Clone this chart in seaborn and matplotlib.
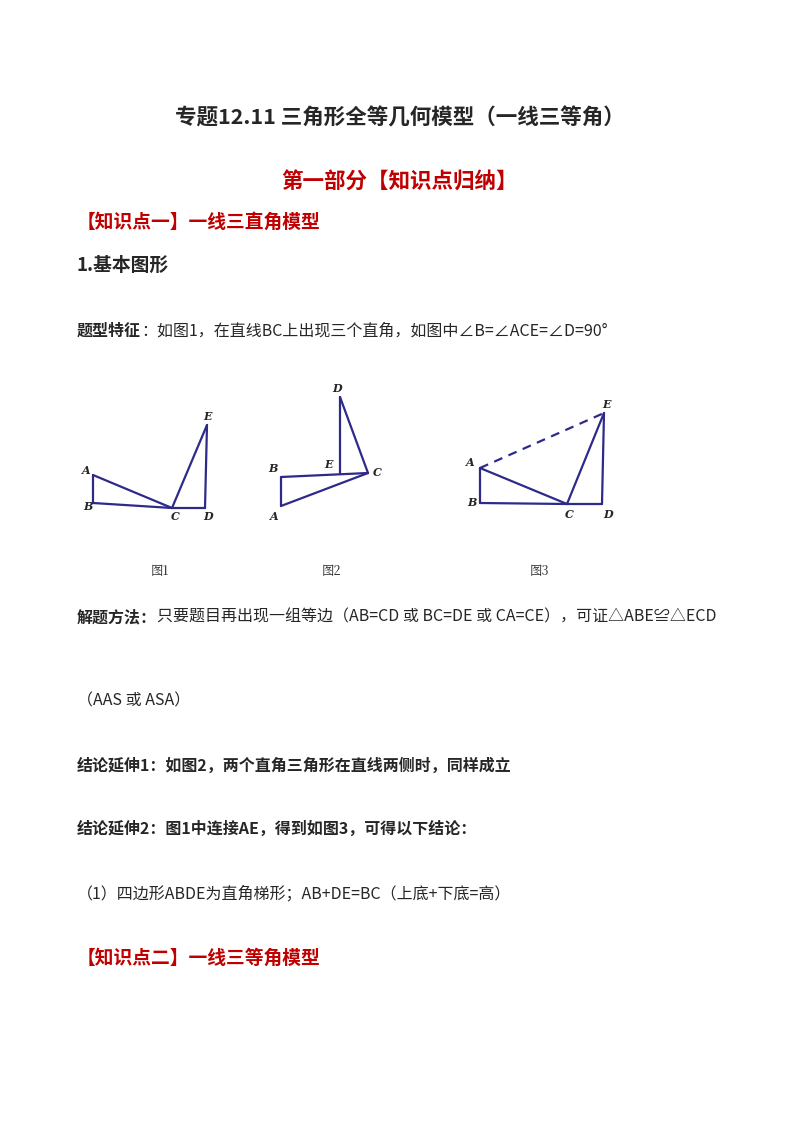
import matplotlib
matplotlib.use("Agg")
import matplotlib.pyplot as plt
import seaborn as sns

sns.set_theme(style="white")
plt.rcParams['font.family'] = ['Noto Sans CJK SC', 'DejaVu Sans']

# figure geometry points (page pixel coordinates)
fig1_pts = {"A": (93, 475), "B": (93, 503), "C": (172, 508), "D": (205, 508), "E": (207, 425)}
fig1_lines = [("A", "B"), ("B", "C"), ("C", "D"), ("A", "C"), ("C", "E"), ("E", "D")]
fig1_lbl = {"A": (86, 470), "B": (88, 507), "C": (175, 517), "D": (208, 517), "E": (208, 416)}

fig2_pts = {"D": (340, 397), "E": (340, 474), "C": (368, 473), "B": (281, 477), "A": (281, 506)}
fig2_lines = [("D", "E"), ("D", "C"), ("B", "C"), ("A", "C"), ("B", "A")]
fig2_lbl = {"D": (337, 388), "B": (273, 468), "E": (329, 465), "C": (377, 473), "A": (274, 516)}

fig3_pts = {"A": (480, 468), "B": (480, 503), "C": (567, 504), "D": (602, 504), "E": (604, 413)}
fig3_lines = [("A", "B"), ("B", "C"), ("C", "D"), ("A", "C"), ("C", "E"), ("E", "D")]
fig3_dash = [("A", "E")]
fig3_lbl = {"A": (470, 463), "B": (472, 503), "C": (569, 515), "D": (608, 514), "E": (607, 404)}

captions = ["图1", "图2", "图3"]
caption_x = [160, 331, 539]

fig = plt.figure(figsize=(8, 11.32), dpi=100)
ax = fig.add_axes([0, 0, 1, 1])
ax.set_xlim(0, 800); ax.set_ylim(1132, 0); ax.axis("off")
navy = "#2d2a8a"
red = "#c00000"

for pts, lines, lbl in [(fig1_pts, fig1_lines, fig1_lbl), (fig2_pts, fig2_lines, fig2_lbl), (fig3_pts, fig3_lines, fig3_lbl)]:
    for a, b in lines:
        ax.plot([pts[a][0], pts[b][0]], [pts[a][1], pts[b][1]], color=navy, lw=1.6)
    for k, (x, y) in lbl.items():
        ax.text(x, y, k, fontsize=8, fontstyle="italic", fontweight="bold", family="DejaVu Serif", ha="center", va="center")
for a, b in fig3_dash:
    ax.plot([fig3_pts[a][0], fig3_pts[b][0]], [fig3_pts[a][1], fig3_pts[b][1]], color=navy, lw=1.6, ls=(0, (4, 3)))
for c, x in zip(captions, caption_x):
    ax.text(x, 571, c, fontsize=9, ha="center", va="center", family=["Noto Serif CJK SC", "Noto Sans CJK SC"])

ax.text(400, 118, "专题12.11 三角形全等几何模型（一线三等角）", fontsize=15.5, fontweight="bold", ha="center", va="center")
ax.text(400, 182, "第一部分【知识点归纳】", fontsize=15.5, fontweight="bold", color=red, ha="center", va="center")
ax.text(77, 222, "【知识点一】一线三直角模型", fontsize=13.5, fontweight="bold", color=red, va="center")
ax.text(77, 265, "1.基本图形", fontsize=13.5, fontweight="bold", va="center")
ax.text(77, 958, "【知识点二】一线三等角模型", fontsize=13.5, fontweight="bold", color=red, va="center")

fig.canvas.draw()
r = fig.canvas.get_renderer()
FS = 11.5
def mixed(y, bold, rest, x=77, fs=FS):
    t = ax.text(x, y, bold, fontsize=fs, fontweight="bold", va="center")
    bb = t.get_window_extent(r)
    ax.text(bb.x1, y, rest, fontsize=fs, va="center")

mixed(331, "题型特征", "：如图1，在直线BC上出现三个直角，如图中∠B=∠ACE=∠D=90°")
mixed(617, "解题方法：", "只要题目再出现一组等边（AB=CD 或 BC=DE 或 CA=CE），可证△ABE≌△ECD")
ax.text(77, 701, "（AAS 或 ASA）", fontsize=FS, va="center")
ax.text(77, 766, "结论延伸1：如图2，两个直角三角形在直线两侧时，同样成立", fontsize=FS, fontweight="bold", va="center")
ax.text(77, 829, "结论延伸2：图1中连接AE，得到如图3，可得以下结论：", fontsize=FS, fontweight="bold", va="center")
ax.text(77, 894, "（1）四边形ABDE为直角梯形；AB+DE=BC（上底+下底=高）", fontsize=FS, va="center")

fig.savefig("out.png", dpi=100)
